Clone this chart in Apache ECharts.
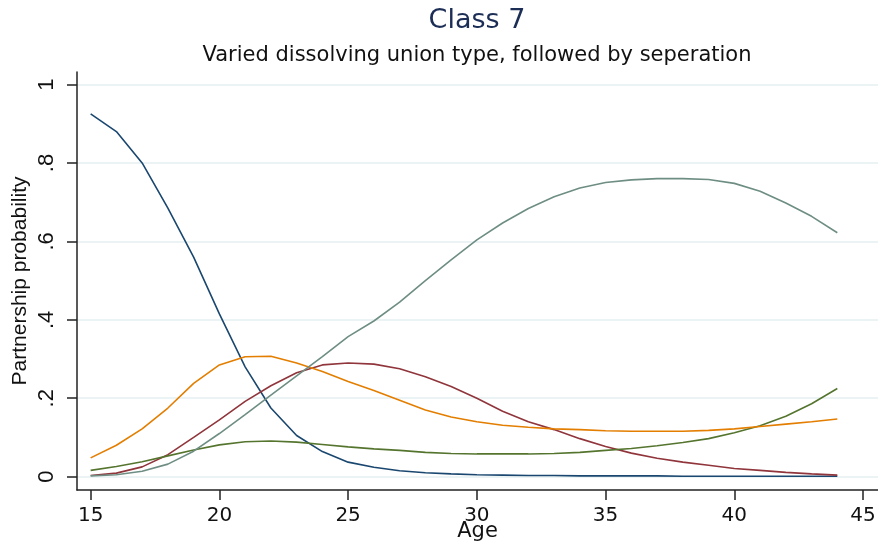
<!DOCTYPE html>
<html>
<head>
<meta charset="utf-8">
<script src="https://cdn.jsdelivr.net/npm/echarts@6/dist/echarts.min.js"></script>
<style>
html,body{margin:0;padding:0;background:#fff;}
#chart{width:878px;height:546px;}
</style>
</head>
<body>
<div id="chart"></div>
<script>
const ages = [15,16,17,18,19,20,21,22,23,24,25,26,27,28,29,30,31,32,33,34,35,36,37,38,39,40,41,42,43,44];
const blueVals = [0.925,0.88,0.80,0.685,0.56,0.415,0.28,0.175,0.105,0.064,0.037,0.024,0.015,0.010,0.007,0.005,0.004,0.003,0.003,0.002,0.002,0.002,0.002,0.001,0.001,0.001,0.001,0.001,0.001,0.001];
const redVals = [0.003,0.009,0.025,0.056,0.10,0.145,0.192,0.232,0.265,0.285,0.29,0.287,0.275,0.255,0.23,0.20,0.167,0.14,0.12,0.097,0.077,0.06,0.047,0.037,0.029,0.021,0.016,0.011,0.007,0.004];
const greenVals = [0.016,0.026,0.038,0.053,0.068,0.081,0.089,0.091,0.088,0.082,0.076,0.071,0.067,0.062,0.059,0.058,0.058,0.058,0.059,0.062,0.067,0.072,0.079,0.087,0.097,0.112,0.13,0.154,0.186,0.225];
const orangeVals = [0.048,0.08,0.122,0.175,0.238,0.285,0.306,0.307,0.29,0.268,0.243,0.22,0.195,0.17,0.152,0.14,0.131,0.126,0.122,0.12,0.117,0.116,0.116,0.116,0.118,0.122,0.128,0.134,0.14,0.147];
const tealVals = [0.002,0.005,0.014,0.032,0.065,0.11,0.158,0.208,0.257,0.306,0.357,0.397,0.445,0.50,0.553,0.604,0.647,0.684,0.714,0.736,0.75,0.757,0.76,0.76,0.758,0.748,0.728,0.698,0.664,0.622];
const xTicks = [15,20,25,30,35,40,45];
const yTicks = [0,0.2,0.4,0.6,0.8,1];
const yTickLabels = ['0','.2','.4','.6','.8','1'];
const titleText = 'Class 7';
const subtitleText = 'Varied dissolving union type, followed by seperation';
const xTitle = 'Age';
const yTitle = 'Partnership probability';

const seriesDefs = [
  {name:'Series 1', vals: blueVals, color:'#1a476f'},
  {name:'Series 2', vals: redVals, color:'#90353b'},
  {name:'Series 3', vals: greenVals, color:'#55752f'},
  {name:'Series 4', vals: orangeVals, color:'#e37e00'},
  {name:'Series 5', vals: tealVals, color:'#6e8e84'}
];

const chart = echarts.init(document.getElementById('chart'));
const font = 'Liberation Sans, Arial, sans-serif';
const wide = 'DejaVu Sans, sans-serif';
chart.setOption({
  backgroundColor:'#fff',
  animation:false,
  title:[
    {text:titleText, left:477, textAlign:'center', top:7, padding:0,
     textStyle:{fontFamily:wide, fontSize:27, fontWeight:'normal', color:'#1c2d56'}},
    {text:subtitleText, left:477, textAlign:'center', top:45, padding:0,
     textStyle:{fontFamily:wide, fontSize:21, fontWeight:'normal', color:'#111'}}
  ],
  grid:{left:77, right:0, top:72, bottom:56, containLabel:false, outerBoundsMode:'none'},
  xAxis:{
    type:'value', min:14.47, max:45.58,
    name:xTitle, nameLocation:'middle', nameGap:31, nameMoveOverlap:false,
    nameTextStyle:{fontFamily:wide, fontSize:21, color:'#111'},
    axisLine:{show:true, onZero:false, lineStyle:{color:'#222', width:1.5}},
    axisTick:{show:true, length:10, customValues: xTicks, lineStyle:{color:'#222', width:1.5}},
    axisLabel:{customValues: xTicks, margin:16, fontFamily:wide, fontSize:20, color:'#111'},
    splitLine:{show:false}
  },
  yAxis:{
    type:'value', min:-0.034, max:1.032,
    name:yTitle, nameLocation:'middle', nameGap:46, nameMoveOverlap:false,
    nameTextStyle:{fontFamily:font, fontSize:21, color:'#111'},
    axisLine:{show:true, onZero:false, lineStyle:{color:'#222', width:1.5}},
    axisTick:{show:true, length:10, customValues: yTicks, lineStyle:{color:'#222', width:1.5}},
    axisLabel:{customValues: yTicks, rotate:90, margin:19, fontFamily:font, fontSize:22, color:'#111',
      formatter:function(v){ const i = yTicks.findIndex(t=>Math.abs(t-v)<1e-6); return i>=0? yTickLabels[i] : ''; }},
    splitLine:{show:true, lineStyle:{color:'#e6eff1', width:1.5}}
  },
  series: seriesDefs.map(s=>({
    name:s.name, type:'line', symbol:'none', smooth:false,
    data: ages.map((a,i)=>[a, s.vals[i]]),
    lineStyle:{color:s.color, width:1.6},
    itemStyle:{color:s.color}
  }))
});
</script>
</body>
</html>
